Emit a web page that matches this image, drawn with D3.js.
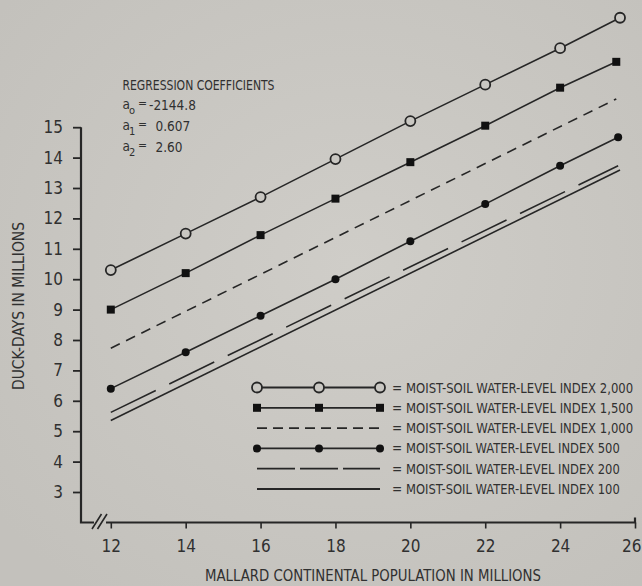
<!DOCTYPE html>
<html>
<head>
<meta charset="utf-8">
<script src="https://cdn.jsdelivr.net/npm/d3@7"></script>
<style>
  html, body { margin: 0; padding: 0; background: #c8c6c1; }
  svg { display: block; }
</style>
</head>
<body>
<svg id="chart" width="642" height="586"></svg>
<script>
// ---- data -------------------------------------------------------------
const xTickValues = [12, 14, 16, 18, 20, 22, 24, 26];
const yTickValues = [3, 4, 5, 6, 7, 8, 9, 10, 11, 12, 13, 14, 15];

// water-level index 2,000 (open circles)
const pop2000 = [12, 14, 16, 18, 20, 22, 24, 25.6];
const days2000 = [10.3, 11.5, 12.7, 13.95, 15.2, 16.4, 17.6, 18.6];
// water-level index 1,500 (filled squares)
const pop1500 = [12, 14, 16, 18, 20, 22, 24, 25.5];
const days1500 = [9.0, 10.2, 11.45, 12.65, 13.85, 15.05, 16.3, 17.15];
// water-level index 1,000 (short dashes)
const pop1000 = [12, 25.5];
const days1000 = [7.73, 15.93];
// water-level index 500 (filled circles)
const pop500 = [12, 14, 16, 18, 20, 22, 24, 25.55];
const days500 = [6.4, 7.6, 8.8, 10.0, 11.25, 12.47, 13.73, 14.67];
// water-level index 200 (long dashes)
const pop200 = [12, 25.55];
const days200 = [5.62, 13.73];
// water-level index 100 (solid)
const pop100 = [12, 25.6];
const days100 = [5.35, 13.59];

const legendLabels = [
  "MOIST-SOIL WATER-LEVEL INDEX 2,000",
  "MOIST-SOIL WATER-LEVEL INDEX 1,500",
  "MOIST-SOIL WATER-LEVEL INDEX 1,000",
  "MOIST-SOIL WATER-LEVEL INDEX 500",
  "MOIST-SOIL WATER-LEVEL INDEX 200",
  "MOIST-SOIL WATER-LEVEL INDEX 100"
];

const coefficientTitle = "REGRESSION COEFFICIENTS";
const coefficientSubs = ["o", "1", "2"];
const coefficientValues = ["-2144.8", "0.607", "2.60"];

const xTitle = "MALLARD CONTINENTAL POPULATION IN MILLIONS";
const yTitle = "DUCK-DAYS IN MILLIONS";

// ---- setup ------------------------------------------------------------
const INK = "#262626";
const TEXT_INK = "#303030";
const BG = "#c9c7c2";
const FONT = "'Liberation Sans Narrow','DejaVu Sans Condensed','Roboto Condensed','Liberation Sans',sans-serif";

const svg = d3.select("#chart");

// soft paper tone
const defs = svg.append("defs");
const grad = defs.append("radialGradient").attr("id", "paper")
  .attr("cx", "55%").attr("cy", "45%").attr("r", "70%");
grad.append("stop").attr("offset", "0%").attr("stop-color", "#cfcdc8");
grad.append("stop").attr("offset", "100%").attr("stop-color", "#c3c1bc");
svg.append("rect").attr("width", 642).attr("height", 586).attr("fill", "url(#paper)");

const axisLeftX = 81;
const axisBottomY = 522.5;

const x = d3.scaleLinear().domain([12, 26]).range([110.8, 635]);
const y = d3.scaleLinear().domain([3, 15]).range([492, 127.2]);

const series = [
  { xs: pop2000, ys: days2000, marker: "openCircle", dash: null },
  { xs: pop1500, ys: days1500, marker: "square", dash: null },
  { xs: pop1000, ys: days1000, marker: null, dash: "10,7" },
  { xs: pop500, ys: days500, marker: "dot", dash: null },
  { xs: pop200, ys: days200, marker: null, dash: "50,15" },
  { xs: pop100, ys: days100, marker: null, dash: null }
];

function drawMarker(g, kind, cx, cy) {
  if (kind === "openCircle") {
    g.append("circle").attr("cx", cx).attr("cy", cy).attr("r", 5)
      .attr("fill", BG).attr("stroke", INK).attr("stroke-width", 1.8);
  } else if (kind === "square") {
    g.append("rect").attr("x", cx - 4).attr("y", cy - 4)
      .attr("width", 8).attr("height", 8).attr("fill", "#111");
  } else if (kind === "dot") {
    g.append("circle").attr("cx", cx).attr("cy", cy).attr("r", 4).attr("fill", "#111");
  }
}

// ---- axes -------------------------------------------------------------
const yAxis = d3.axisLeft(y).tickValues(yTickValues).tickSize(8).tickSizeOuter(0).tickPadding(10);
const gy = svg.append("g").attr("transform", `translate(${axisLeftX},0)`).call(yAxis);
gy.select(".domain").remove();
gy.selectAll(".tick line").attr("stroke", INK).attr("stroke-width", 1.8);
gy.selectAll(".tick text").attr("fill", TEXT_INK).attr("font-family", FONT)
  .attr("font-size", 17).style("font-stretch", "condensed");

const xAxis = d3.axisBottom(x).tickValues(xTickValues).tickSize(6).tickSizeOuter(0).tickPadding(11);
const gx = svg.append("g").attr("transform", `translate(0,${axisBottomY})`).call(xAxis);
gx.select(".domain").remove();
gx.selectAll(".tick line").attr("stroke", INK).attr("stroke-width", 1.6);
gx.selectAll(".tick text").attr("fill", TEXT_INK).attr("font-family", FONT)
  .attr("font-size", 17).style("font-stretch", "condensed");
// the last label sits against the right edge of the page
gx.selectAll(".tick text").filter(d => d === 26).attr("text-anchor", "end").attr("x", 6);

// axis lines with the break near the origin
svg.append("path")
  .attr("d", `M${axisLeftX},${y(15)} V${axisBottomY} H94`)
  .attr("fill", "none").attr("stroke", INK).attr("stroke-width", 2.2);
svg.append("path")
  .attr("d", `M106,${axisBottomY} H${x(26)} v-5`)
  .attr("fill", "none").attr("stroke", INK).attr("stroke-width", 2.2);
svg.append("path")
  .attr("d", "M92,529 L101.5,514 M97.5,529 L107,514")
  .attr("fill", "none").attr("stroke", INK).attr("stroke-width", 1.6);

// axis titles
svg.append("text")
  .attr("transform", "translate(24,306) rotate(-90)")
  .attr("text-anchor", "middle")
  .attr("font-family", FONT).attr("font-size", 15).style("font-stretch", "condensed")
  .attr("fill", TEXT_INK)
  .attr("textLength", 168).attr("lengthAdjust", "spacingAndGlyphs")
  .text(yTitle);

svg.append("text")
  .attr("x", 373).attr("y", 581)
  .attr("text-anchor", "middle")
  .attr("font-family", FONT).attr("font-size", 15).style("font-stretch", "condensed")
  .attr("fill", TEXT_INK)
  .attr("textLength", 336).attr("lengthAdjust", "spacingAndGlyphs")
  .text(xTitle);

// ---- series -----------------------------------------------------------
const line = d3.line().x(d => x(d[0])).y(d => y(d[1]));
const gSeries = svg.append("g");
series.forEach(s => {
  const pts = s.xs.map((v, i) => [v, s.ys[i]]);
  gSeries.append("path").datum(pts)
    .attr("d", line)
    .attr("fill", "none").attr("stroke", INK).attr("stroke-width", 1.6)
    .attr("stroke-dasharray", s.dash);
  if (s.marker) pts.forEach(p => drawMarker(gSeries, s.marker, x(p[0]), y(p[1])));
});

// ---- legend -----------------------------------------------------------
const legendX0 = 257, legendXm = 319, legendX1 = 380;
const legendY0 = 387.5, legendStep = 20.3;
const legendDash = [null, null, "10,6", null, "38,5", null];
const gLegend = svg.append("g");
series.forEach((s, i) => {
  const ly = legendY0 + i * legendStep;
  gLegend.append("line")
    .attr("x1", legendX0).attr("x2", legendX1).attr("y1", ly).attr("y2", ly)
    .attr("stroke", INK).attr("stroke-width", 1.8)
    .attr("stroke-dasharray", legendDash[i]);
  if (s.marker) [legendX0, legendXm, legendX1].forEach(mx => drawMarker(gLegend, s.marker, mx, ly));
  gLegend.append("text")
    .attr("x", 392).attr("y", ly + 5)
    .attr("font-family", FONT).attr("font-size", 13.5).style("font-stretch", "condensed")
    .attr("fill", TEXT_INK)
    .text("=");
  gLegend.append("text")
    .attr("x", 406).attr("y", ly + 5)
    .attr("font-family", FONT).attr("font-size", 13.5).style("font-stretch", "condensed")
    .attr("fill", TEXT_INK)
    .attr("textLength", legendLabels[i].length * 6.68).attr("lengthAdjust", "spacingAndGlyphs")
    .text(legendLabels[i]);
});

// ---- regression coefficients ------------------------------------------
const gCoef = svg.append("g").attr("font-family", FONT).attr("font-size", 13.5)
  .style("font-stretch", "condensed").attr("fill", TEXT_INK);
gCoef.append("text").attr("x", 122.5).attr("y", 90)
  .attr("textLength", 152).attr("lengthAdjust", "spacingAndGlyphs")
  .text(coefficientTitle);
coefficientSubs.forEach((sub, i) => {
  const by = 109 + i * 21;
  gCoef.append("text").attr("x", 122.5).attr("y", by).text("a");
  gCoef.append("text").attr("x", 129).attr("y", by + 5).attr("font-size", 11).text(sub);
  gCoef.append("text").attr("x", 138).attr("y", by - 2).attr("font-size", 12).text("=");
  gCoef.append("text").attr("x", i === 0 ? 149 : 155.5).attr("y", by + 1)
    .text(coefficientValues[i]);
});
</script>
</body>
</html>
